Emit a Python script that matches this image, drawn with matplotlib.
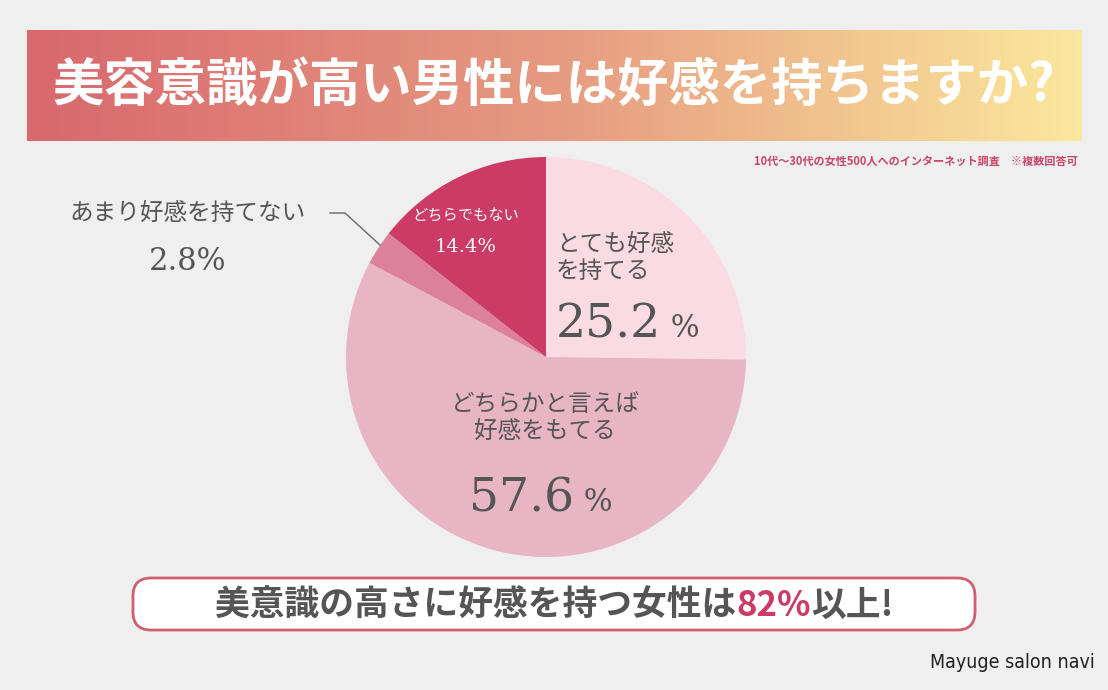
import numpy as np
import matplotlib
matplotlib.use("Agg")
import matplotlib.pyplot as plt
from matplotlib.patches import FancyBboxPatch
from matplotlib.colors import LinearSegmentedColormap

categories = ["とても好感を持てる", "どちらかと言えば好感をもてる", "あまり好感を持てない", "どちらでもない"]
values = [25.2, 57.6, 2.8, 14.4]
colors = ["#fadbe3", "#e8b5c5", "#dc809c", "#cc3b66"]

plt.rcParams["font.family"] = "Noto Sans CJK JP"
W, H = 1108, 690
fig = plt.figure(figsize=(W/100, H/100), dpi=100, facecolor="#efefef")
ax = fig.add_axes([0, 0, 1, 1])
ax.set_xlim(0, W); ax.set_ylim(0, H); ax.axis("off"); ax.set_aspect("equal")
Y = lambda y: H - y

cmap = LinearSegmentedColormap.from_list("g", ["#d8686e", "#e69a80", "#fbe89c"])
ax.imshow(np.linspace(0, 1, 256)[None, :], cmap=cmap, aspect="auto",
          extent=(27, 1082, Y(141), Y(30)), zorder=1)
ax.text(554, Y(85), "美容意識が高い男性には好感を持ちますか?", color="white", fontsize=37,
        fontweight="bold", ha="center", va="center", zorder=2)
ax.text(1078, Y(161), "10代〜30代の女性500人へのインターネット調査　※複数回答可", color="#c9456a",
        fontsize=8, fontweight="bold", ha="right", va="center")

cx, cy, r = 546, Y(357), 200
ax.pie(values, colors=colors, startangle=90, counterclock=False, center=(cx, cy),
       radius=r, wedgeprops=dict(linewidth=0))
ax.set_xlim(0, W); ax.set_ylim(0, H)

fig.canvas.draw()
rend = fig.canvas.get_renderer()

def line(parts, y, x=None, center=None, va="center"):
    ts = [ax.text(0, y, s, va=va, ha="left", **kw) for s, kw in parts]
    ws = [t.get_window_extent(rend).width for t in ts]
    x0 = x if x is not None else center - sum(ws) / 2
    for t, w in zip(ts, ws):
        t.set_x(x0); x0 += w

g = "#555555"
big = dict(color=g, fontsize=34, family="DejaVu Serif")
sm = dict(color=g, fontsize=22, family="DejaVu Serif")
ax.text(556, Y(258), "とても好感\nを持てる", color=g, fontsize=17, ha="left", va="center", linespacing=1.2)
line([(f"{values[0]:.1f}", big), (" %", sm)], Y(337), x=556, va="baseline")
ax.text(545, Y(418), "どちらかと言えば\n好感をもてる", color=g, fontsize=17, ha="center", va="center", linespacing=1.2)
line([(f"{values[1]:.1f}", big), (" %", sm)], Y(511), center=541, va="baseline")
ax.text(466, Y(216), "どちらでもない", color="white", fontsize=11, ha="center", va="center")
ax.text(466, Y(247), f"{values[3]:.1f}%", color="white", fontsize=14, ha="center", va="center", family="DejaVu Serif")
ax.text(188, Y(213), "あまり好感を持てない", color=g, fontsize=17, ha="center", va="center")
ax.text(188, Y(262), f"{values[2]:.1f}%", color=g, fontsize=22, ha="center", va="center", family="DejaVu Serif")
ax.plot([330, 345, 380], [Y(213), Y(213), Y(245)], color="#666666", lw=1)

box = FancyBboxPatch((133, Y(630)), 842, 52, boxstyle="round,pad=0,rounding_size=18",
                     fc="white", ec="#d0606f", lw=2)
ax.add_patch(box)
bk = dict(fontsize=25, fontweight="bold")
line([("美意識の高さに好感を持つ女性は", dict(color=g, **bk)),
      ("82%", dict(color="#cc3b66", **bk)),
      ("以上!", dict(color=g, **bk))], Y(605), center=554)
ax.text(1095, Y(662), "Mayuge salon navi", color="#222222", fontsize=14, ha="right", va="center",
        family="DejaVu Sans", fontstretch="condensed")
fig.savefig("out.png", dpi=100, facecolor=fig.get_facecolor())
